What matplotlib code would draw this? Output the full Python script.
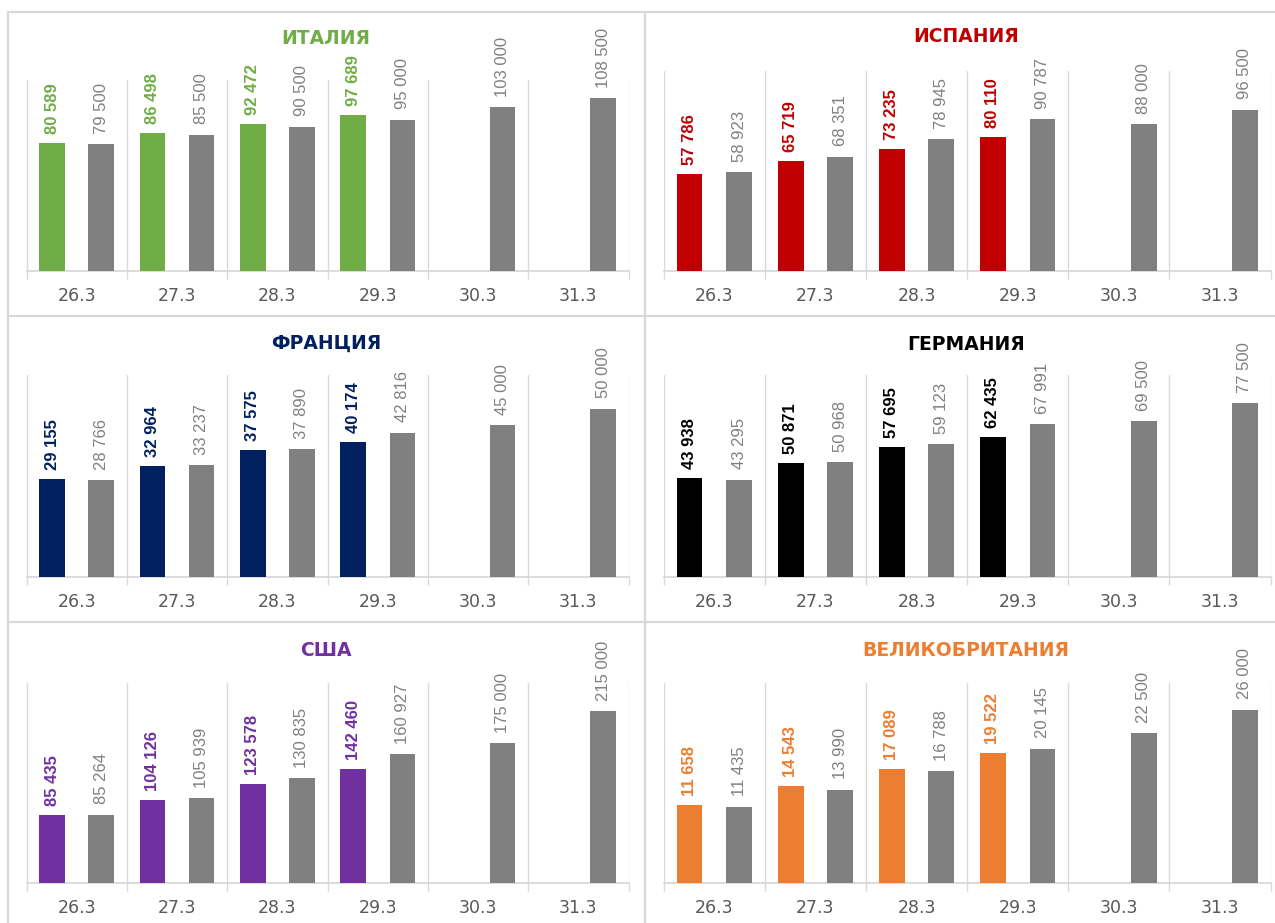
import matplotlib
matplotlib.use("Agg")
import matplotlib.pyplot as plt
from matplotlib.lines import Line2D

plt.rcParams['font.family'] = ['DejaVu Sans']

dates = ['26.3', '27.3', '28.3', '29.3', '30.3', '31.3']

italy_actual = [80589, 86498, 92472, 97689]
italy_forecast = [79500, 85500, 90500, 95000, 103000, 108500]
spain_actual = [57786, 65719, 73235, 80110]
spain_forecast = [58923, 68351, 78945, 90787, 88000, 96500]
france_actual = [29155, 32964, 37575, 40174]
france_forecast = [28766, 33237, 37890, 42816, 45000, 50000]
germany_actual = [43938, 50871, 57695, 62435]
germany_forecast = [43295, 50968, 59123, 67991, 69500, 77500]
usa_actual = [85435, 104126, 123578, 142460]
usa_forecast = [85264, 105939, 130835, 160927, 175000, 215000]
uk_actual = [11658, 14543, 17089, 19522]
uk_forecast = [11435, 13990, 16788, 20145, 22500, 26000]

titles = ['ИТАЛИЯ', 'ИСПАНИЯ', 'ФРАНЦИЯ', 'ГЕРМАНИЯ', 'США', 'ВЕЛИКОБРИТАНИЯ']
colors = ['#70AD47', '#C00000', '#002060', '#000000', '#7030A0', '#ED7D31']
ymaxes = [120000, 120000, 60000, 90000, 250000, 30000]

W, H = 1275, 923
GRAY = '#808080'
LINE = '#d9d9d9'
LABEL_FAMILY = ['Liberation Sans', 'DejaVu Sans']

fig = plt.figure(figsize=(W / 100, H / 100), dpi=100)
fig.patch.set_facecolor('white')

# axes rects in pixel coords: left, top, right, bottom
rects = [
    (26.5, 80, 628.6, 270.7),
    (663.7, 70.7, 1270.6, 270.7),
    (26.5, 375, 628.6, 576.7),
    (663.7, 375, 1270.6, 576.7),
    (26.5, 683, 628.6, 883),
    (663.7, 683, 1270.6, 883),
]
title_pos = [(326, 38), (966, 37), (326, 343), (966, 345), (326, 650), (966, 650)]

series = [
    (italy_actual, italy_forecast),
    (spain_actual, spain_forecast),
    (france_actual, france_forecast),
    (germany_actual, germany_forecast),
    (usa_actual, usa_forecast),
    (uk_actual, uk_forecast),
]


def fmt(v):
    return f"{v:,}".replace(',', ' ')


bw = 0.255
off = 0.245

for k, ((act, fc), col, ymax, (l, t, r, b), title, (tx, ty)) in enumerate(
        zip(series, colors, ymaxes, rects, titles, title_pos)):
    ax = fig.add_axes([l / W, 1 - b / H, (r - l) / W, (b - t) / H])
    ax.set_xlim(-0.5, 5.5)
    ax.set_ylim(0, ymax)
    xa = [i - off for i in range(len(act))]
    xf = [i + off for i in range(len(fc))]
    ax.bar(xa, act, width=bw, color=col, zorder=3)
    ax.bar(xf, fc, width=bw, color=GRAY, zorder=3)
    for x, v in zip(xa, act):
        ax.annotate(fmt(v), (x, v), xytext=(0, 6.5), textcoords='offset points',
                    rotation=90, ha='center', va='bottom', fontsize=12,
                    fontweight='bold', color=col, family=LABEL_FAMILY)
    for x, v in zip(xf, fc):
        ax.annotate(fmt(v), (x, v), xytext=(0, 7.5), textcoords='offset points',
                    rotation=90, ha='center', va='bottom', fontsize=12,
                    color=GRAY, family=LABEL_FAMILY)
    for i in range(len(dates) + 1):
        ax.axvline(i - 0.5, color=LINE, lw=1.0, zorder=1)
    for s in ['top', 'left', 'right']:
        ax.spines[s].set_visible(False)
    ax.spines['bottom'].set_color(LINE)
    ax.spines['bottom'].set_linewidth(1.3)
    ax.set_yticks([])
    ax.set_xticks([i - 0.5 for i in range(len(dates) + 1)])
    ax.set_xticklabels([])
    ax.tick_params(axis='x', length=6, width=1.0, color=LINE)
    for i, d in enumerate(dates):
        ax.annotate(d, (i, 0), xycoords=('data', 'axes fraction'),
                    xytext=(0, -18), textcoords='offset points',
                    ha='center', va='center', fontsize=12.5, color='#595959')
    ax.set_facecolor('none')
    fig.text(tx / W, 1 - ty / H, title, ha='center', va='center',
             fontsize=13.5, fontweight='bold', color=col)

# panel borders
def hline(y, x0, x1):
    fig.add_artist(Line2D([x0 / W, x1 / W], [1 - y / H, 1 - y / H],
                          transform=fig.transFigure, color=LINE, lw=1.6))


def vline(x, y0, y1):
    fig.add_artist(Line2D([x / W, x / W], [1 - y0 / H, 1 - y1 / H],
                          transform=fig.transFigure, color=LINE, lw=1.6))


hline(12, 8, W)
hline(316, 8, W)
hline(622, 8, W)
vline(8, 12, H)
vline(645, 12, H)

fig.savefig('out.png', dpi=100, facecolor='white')
